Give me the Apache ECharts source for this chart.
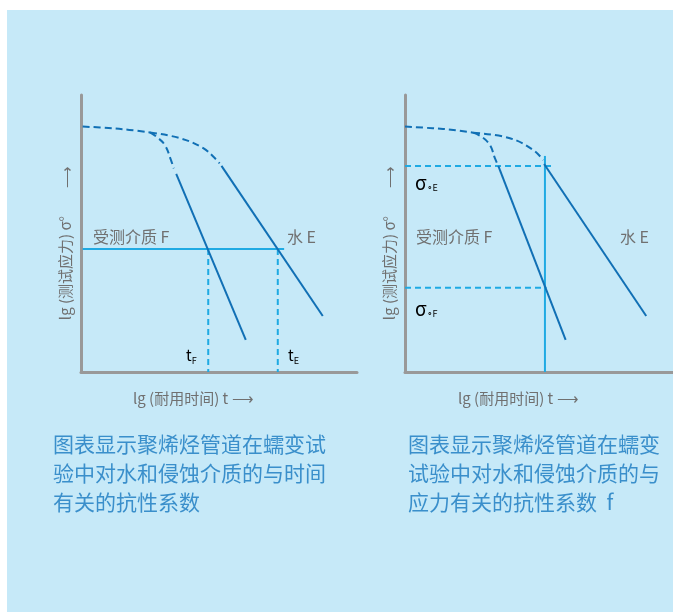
<!DOCTYPE html>
<html>
<head>
<meta charset="utf-8">
<script src="https://cdn.jsdelivr.net/npm/echarts@6/dist/echarts.min.js"></script>
<style>
html,body{margin:0;padding:0;background:#fff;}
#c{width:673px;height:612px;}
</style>
</head>
<body>
<div id="c"></div>
<script>
// ---- Data (schematic units: 0..100 on both axes) ----
// Left chart: time-related resistance factor
var leftDashCommon = [[0.6,88.6],[10,88.1],[17.5,87.4],[25,86.5]];
var leftDashF = [[25,86.5],[27.4,84.9],[30.4,81.9],[32.6,76.5],[33.6,73.5]];
var leftSolidF = [[34.5,71.5],[59.7,11.6]];
var leftDashE = [[25,86.5],[35.9,84.4],[44.3,80.8],[49.2,76.5],[50.2,75.3]];
var leftSolidE = [[50.9,74.4],[87.6,20.2]];
var leftStress = [[0.6,44.4],[73.6,44.4]];
var leftTF = [[46.1,44.4],[46.1,0]];
var leftTE = [[71.3,44.4],[71.3,0]];

// Right chart: stress-related resistance factor
var rightDashCommon = [[0,88.6],[10,88.0],[17.5,87.4],[24.7,86.4]];
var rightDashF = [[24.7,86.4],[27.8,84.9],[30.8,81.9],[32.6,77.1],[33.3,75.5]];
var rightSolidF = [[33.8,74.4],[58.2,11.6]];
var rightDashE = [[24.7,86.4],[38.0,84.4],[46.5,80.1],[50.1,76.5]];
var rightSolidE = [[50.4,75.1],[87.4,20.2]];
var rightSigmaE = [[0,74.4],[54.3,74.4]];
var rightSigmaF = [[0,30.4],[51.3,30.4]];
var rightTime = [[50.7,78],[50.7,0]];

var DARK = '#1170B5', CYAN = '#1FAAE3', GRAY = '#999999', TXT = '#707070', CAP = '#3A8FCB';
var FONT = '"Noto Sans CJK SC", "Noto Sans", sans-serif';

function ln(idx, data, color, type, smooth) {
  return {
    type: 'line', xAxisIndex: idx, yAxisIndex: idx, data: data,
    showSymbol: false, symbol: 'none', smooth: smooth || false, silent: true,
    lineStyle: { color: color, width: 2, type: type === 'dashed' ? [7, 4] : type, cap: 'butt' },
    z: color === DARK ? 3 : 2, animation: false
  };
}

function axisCommon(max) {
  return {
    type: 'value', min: 0, max: max,
    axisLine: { show: true, onZero: false, lineStyle: { color: GRAY, width: 3 } },
    axisTick: { show: false }, axisLabel: { show: false }, splitLine: { show: false }
  };
}

function txt(x, y, text, opt) {
  opt = opt || {};
  return {
    type: 'text', x: x, y: y, rotation: opt.rot || 0, z: 10,
    style: Object.assign({
      text: text, fill: opt.fill || TXT, font: (opt.size || 14) + 'px ' + FONT,
      align: opt.align || 'left', verticalAlign: opt.va || 'middle'
    }, opt.extra || {})
  };
}

function sigmaLabel(x, y, s) {
  return {
    type: 'text', x: x, y: y, z: 10,
    style: {
      text: '{a|σ}{b|∘' + s + '}', align: 'left', verticalAlign: 'middle',
      rich: {
        a: { fontSize: 19, fontFamily: FONT, color: '#555555' },
        b: { fontSize: 9, fontFamily: FONT, color: TXT, padding: [10, 0, 0, 0] }
      }
    }
  };
}
function tLabel(x, y, s) {
  return {
    type: 'text', x: x, y: y, z: 10,
    style: {
      text: '{a|t}{b|' + s + '}', align: 'left', verticalAlign: 'middle',
      rich: {
        a: { fontSize: 15, fontFamily: FONT, color: TXT },
        b: { fontSize: 9, fontFamily: FONT, color: TXT, padding: [12, 0, 0, 0] }
      }
    }
  };
}

var chart = echarts.init(document.getElementById('c'), null, { renderer: 'canvas' });
chart.setOption({
  backgroundColor: '#ffffff',
  animation: false,
  grid: [
    { left: 81, top: 95, width: 276, height: 277 },
    { left: 405, top: 95, width: 268, height: 277 }
  ],
  xAxis: [Object.assign(axisCommon(100), { gridIndex: 0 }), Object.assign(axisCommon(97.1), { gridIndex: 1 })],
  yAxis: [Object.assign(axisCommon(100), { gridIndex: 0 }), Object.assign(axisCommon(100), { gridIndex: 1 })],
  series: [
    ln(0, leftDashCommon, DARK, 'dashed', 0.4),
    ln(0, leftDashF, DARK, 'dashed', 0.4),
    ln(0, leftSolidF, DARK, 'solid'),
    ln(0, leftDashE, DARK, 'dashed', 0.4),
    ln(0, leftSolidE, DARK, 'solid'),
    ln(0, leftStress, CYAN, 'solid'),
    ln(0, leftTF, CYAN, [6, 4]),
    ln(0, leftTE, CYAN, [6, 4]),
    ln(1, rightDashCommon, DARK, 'dashed', 0.4),
    ln(1, rightDashF, DARK, 'dashed', 0.4),
    ln(1, rightSolidF, DARK, 'solid'),
    ln(1, rightDashE, DARK, 'dashed', 0.4),
    ln(1, rightSolidE, DARK, 'solid'),
    ln(1, rightSigmaE, CYAN, [6, 4]),
    ln(1, rightSigmaF, CYAN, [6, 4]),
    ln(1, rightTime, CYAN, 'solid')
  ],
  graphic: [
    { type: 'rect', shape: { x: 7, y: 10, width: 666, height: 602 }, style: { fill: '#C6E9F8' }, z: -10, silent: true },
    // left chart labels
    txt(93, 237, '受测介质 F', { size: 16 }),
    txt(287, 237, '水 E', { size: 16 }),
    tLabel(186, 355, 'F'),
    tLabel(288, 355, 'E'),
    txt(133, 398, 'lg (耐用时间) t ⟶', { size: 15 }),
    txt(65, 268, 'lg (测试应力) σ°', { size: 15, align: 'center', rot: Math.PI / 2 }),
    txt(66, 177, '⟶', { size: 15, align: 'center', rot: Math.PI / 2 }),
    // right chart labels
    sigmaLabel(415, 183, 'E'),
    sigmaLabel(415, 309, 'F'),
    txt(416, 237, '受测介质 F', { size: 16 }),
    txt(620, 237, '水 E', { size: 16 }),
    txt(458, 398, 'lg (耐用时间) t ⟶', { size: 15 }),
    txt(389, 268, 'lg (测试应力) σ°', { size: 15, align: 'center', rot: Math.PI / 2 }),
    txt(389, 177, '⟶', { size: 15, align: 'center', rot: Math.PI / 2 }),
    // captions
    txt(53, 430, '图表显示聚烯烃管道在蠕变试\n验中对水和侵蚀介质的与时间\n有关的抗性系数', { size: 21, fill: CAP, va: 'top', extra: { lineHeight: 29 } }),
    txt(408, 430, '图表显示聚烯烃管道在蠕变\n试验中对水和侵蚀介质的与\n应力有关的抗性系数  f', { size: 21, fill: CAP, va: 'top', extra: { lineHeight: 29 } })
  ]
});
</script>
</body>
</html>
